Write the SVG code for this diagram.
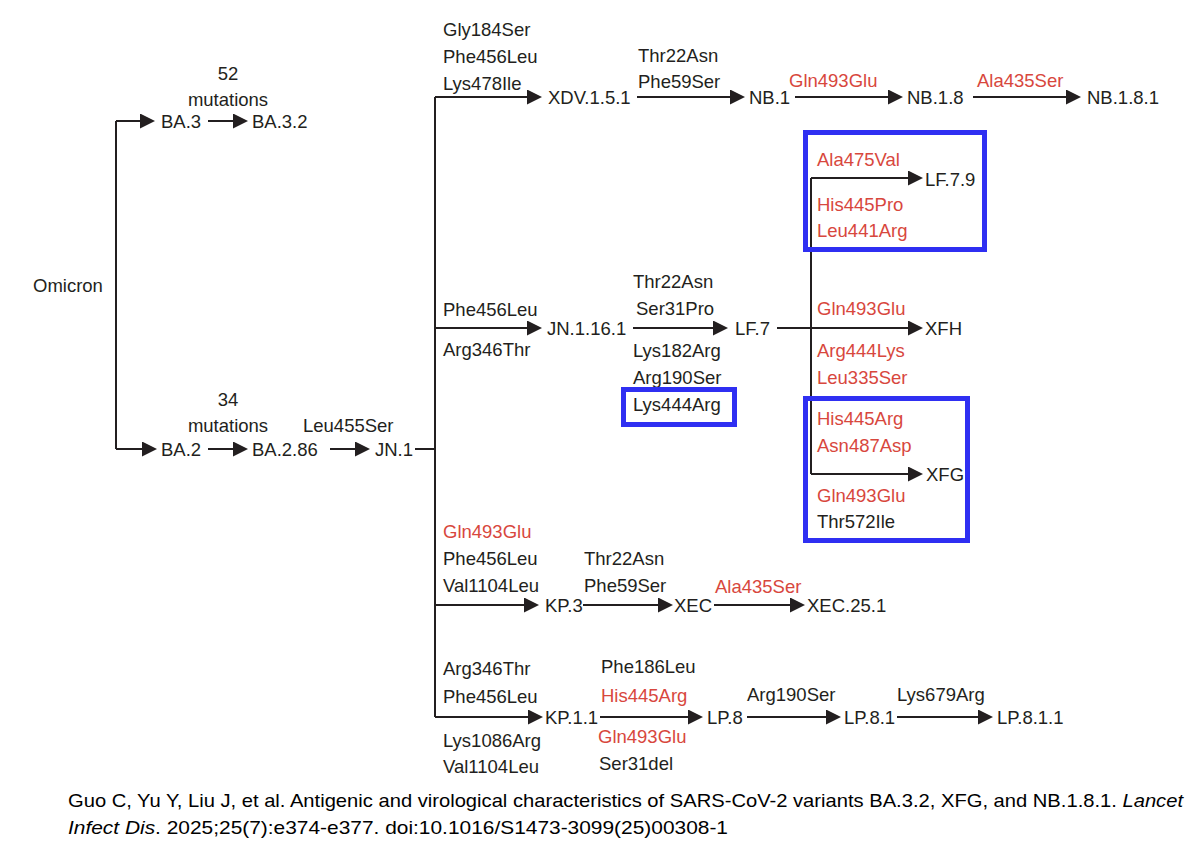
<svg xmlns="http://www.w3.org/2000/svg" width="1200" height="842" viewBox="0 0 1200 842">
<defs>
<marker id="ah" viewBox="0 0 15 15" refX="5" refY="7.5" markerWidth="15" markerHeight="15" markerUnits="userSpaceOnUse" orient="auto"><path d="M0,0 L15,7.5 L0,15 z" fill="#231f20"/></marker>
<style>
text{font-family:"Liberation Sans",Arial,sans-serif;font-size:18.5px;fill:#231f20}
.r{fill:#d8473d}
.m{text-anchor:middle}
.c{stroke:#231f20;stroke-width:2;fill:none}
.a{stroke:#231f20;stroke-width:2;fill:none;marker-end:url(#ah)}
.box{stroke:#2f2ff2;stroke-width:5;fill:none}
.cit{font-family:"Liberation Sans",Arial,sans-serif;font-size:19px;fill:#000}
</style>
</defs>
<rect width="1200" height="842" fill="#fff"/>
<g id="connectors">
<path class="c" d="M116,121 V449"/>
<path class="a" d="M116,121 H145"/>
<path class="a" d="M208,121 H238"/>
<path class="a" d="M116,449 H147"/>
<path class="a" d="M208,449 H238"/>
<path class="a" d="M330,449 H360"/>
<path class="c" d="M415,449 H435"/>
<path class="c" d="M435,97 V717"/>
<path class="a" d="M435,97 H532"/>
<path class="a" d="M637,97 H735"/>
<path class="a" d="M795,97 H893"/>
<path class="a" d="M973,97 H1071"/>
<path class="a" d="M435,328 H532"/>
<path class="a" d="M633,328 H718"/>
<path class="a" d="M777,328 H913"/>
<path class="c" d="M811,178 V474"/>
<path class="a" d="M811,178 H913"/>
<path class="a" d="M811,474 H913"/>
<path class="a" d="M435,605 H529"/>
<path class="a" d="M583,605 H663"/>
<path class="a" d="M714,605 H795"/>
<path class="a" d="M435,717 H533"/>
<path class="a" d="M600,717 H693"/>
<path class="a" d="M747,717 H831"/>
<path class="a" d="M897,717 H983"/>
</g>
<g id="omicron"><text x="33" y="292">Omicron</text></g>
<g id="ba3"><text x="228" y="80" class="m">52</text><text x="228" y="106" class="m">mutations</text><text x="161" y="128">BA.3</text></g>
<g id="ba32"><text x="252" y="128">BA.3.2</text></g>
<g id="ba2"><text x="228" y="406" class="m">34</text><text x="228" y="432" class="m">mutations</text><text x="161" y="456">BA.2</text></g>
<g id="ba286"><text x="252" y="456">BA.2.86</text><text x="303" y="432">Leu455Ser</text></g>
<g id="jn1"><text x="375" y="456">JN.1</text></g>
<g id="xdv151"><text x="443" y="36">Gly184Ser</text><text x="443" y="63">Phe456Leu</text><text x="443" y="90">Lys478Ile</text><text x="548" y="104">XDV.1.5.1</text></g>
<g id="nb1"><text x="638" y="62">Thr22Asn</text><text x="638" y="88">Phe59Ser</text><text x="749" y="104">NB.1</text></g>
<g id="nb18"><text x="789" y="87" class="r">Gln493Glu</text><text x="907" y="104">NB.1.8</text></g>
<g id="nb181"><text x="977" y="87" class="r">Ala435Ser</text><text x="1087" y="104">NB.1.8.1</text></g>
<g id="jn1161"><text x="443" y="316">Phe456Leu</text><text x="443" y="356">Arg346Thr</text><text x="547" y="335">JN.1.16.1</text></g>
<g id="lf7"><text x="633" y="288">Thr22Asn</text><text x="636" y="315">Ser31Pro</text><text x="633" y="357">Lys182Arg</text><text x="633" y="384">Arg190Ser</text><text x="633" y="411">Lys444Arg</text><rect class="box" x="623.5" y="389.5" width="111" height="35"/><text x="735" y="335">LF.7</text></g>
<g id="lf79"><rect class="box" x="805.5" y="132.5" width="179" height="117"/><text x="817" y="166" class="r">Ala475Val</text><text x="817" y="211" class="r">His445Pro</text><text x="817" y="237" class="r">Leu441Arg</text><text x="925" y="186">LF.7.9</text></g>
<g id="xfh"><text x="817" y="315" class="r">Gln493Glu</text><text x="817" y="357" class="r">Arg444Lys</text><text x="817" y="384" class="r">Leu335Ser</text><text x="925" y="335">XFH</text></g>
<g id="xfg"><rect class="box" x="805.5" y="398.5" width="162" height="142"/><text x="817" y="425" class="r">His445Arg</text><text x="817" y="452" class="r">Asn487Asp</text><text x="817" y="502" class="r">Gln493Glu</text><text x="817" y="528">Thr572Ile</text><text x="926" y="481">XFG</text></g>
<g id="kp3"><text x="443" y="538" class="r">Gln493Glu</text><text x="443" y="565">Phe456Leu</text><text x="443" y="592">Val1104Leu</text><text x="545" y="612">KP.3</text></g>
<g id="xec"><text x="584" y="565">Thr22Asn</text><text x="584" y="592">Phe59Ser</text><text x="674" y="612">XEC</text></g>
<g id="xec251"><text x="715" y="593" class="r">Ala435Ser</text><text x="807" y="612">XEC.25.1</text></g>
<g id="kp11"><text x="443" y="675">Arg346Thr</text><text x="443" y="703">Phe456Leu</text><text x="443" y="747">Lys1086Arg</text><text x="443" y="773">Val1104Leu</text><text x="545" y="724">KP.1.1</text></g>
<g id="lp8"><text x="601" y="673">Phe186Leu</text><text x="601" y="702" class="r">His445Arg</text><text x="598" y="743" class="r">Gln493Glu</text><text x="599" y="770">Ser31del</text><text x="707" y="724">LP.8</text></g>
<g id="lp81"><text x="747" y="701">Arg190Ser</text><text x="844" y="724">LP.8.1</text></g>
<g id="lp811"><text x="897" y="701">Lys679Arg</text><text x="997" y="724">LP.8.1.1</text></g>
<g id="citation">
<text class="cit" x="68" y="807" textLength="1115" lengthAdjust="spacingAndGlyphs">Guo C, Yu Y, Liu J, et al. Antigenic and virological characteristics of SARS-CoV-2 variants BA.3.2, XFG, and NB.1.8.1. <tspan font-style="italic">Lancet</tspan></text>
<text class="cit" x="68" y="834" textLength="660" lengthAdjust="spacingAndGlyphs"><tspan font-style="italic">Infect Dis</tspan>. 2025;25(7):e374-e377. doi:10.1016/S1473-3099(25)00308-1</text>
</g>
</svg>
